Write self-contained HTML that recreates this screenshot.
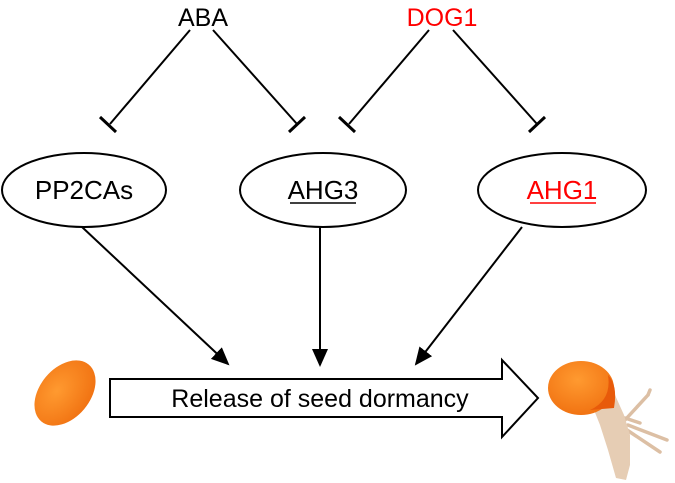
<!DOCTYPE html>
<html><head><style>body{margin:0;background:#fff}svg{display:block}</style></head><body>
<svg width="675" height="483" viewBox="0 0 675 483" font-family="Liberation Sans, sans-serif">
<defs>
<marker id="a" markerWidth="18" markerHeight="18" refX="16" refY="8" orient="auto" markerUnits="userSpaceOnUse"><path d="M0,0 L18,8 L0,16 z" fill="#000"/></marker>
<radialGradient id="o" cx="45%" cy="35%" r="70%"><stop offset="0" stop-color="#ff9a30"/><stop offset="1" stop-color="#f07010"/></radialGradient>
</defs>
<text x="203" y="26" font-size="25" text-anchor="middle">ABA</text>
<text x="442" y="26" font-size="25" text-anchor="middle" fill="#f00">DOG1</text>
<g stroke="#000" stroke-width="2" fill="none">
<line x1="190" y1="30" x2="110" y2="124"/><line x1="100" y1="117" x2="116" y2="132" stroke-width="3"/>
<line x1="213" y1="30" x2="297" y2="124"/><line x1="289" y1="132" x2="305" y2="117" stroke-width="3"/>
<line x1="429" y1="30" x2="349" y2="124"/><line x1="339" y1="117" x2="355" y2="132" stroke-width="3"/>
<line x1="453" y1="30" x2="537" y2="124"/><line x1="529" y1="132" x2="545" y2="117" stroke-width="3"/>
<ellipse cx="84" cy="190" rx="82" ry="37"/>
<ellipse cx="323" cy="190" rx="83" ry="37"/>
<ellipse cx="562" cy="190" rx="84" ry="37"/>
<line x1="82" y1="227" x2="228" y2="364" marker-end="url(#a)"/>
<line x1="320" y1="227" x2="320" y2="365" marker-end="url(#a)"/>
<line x1="522" y1="227" x2="416" y2="364" marker-end="url(#a)"/>
<path d="M110,379 L502,379 L502,360 L538,398 L502,437 L502,417 L110,417 Z" fill="#fff"/>
</g>
<text x="84" y="199" font-size="26" text-anchor="middle">PP2CAs</text>
<text x="323" y="199" font-size="26" text-anchor="middle">AHG3</text>
<text x="562" y="199" font-size="26" text-anchor="middle" fill="#f00">AHG1</text>
<line x1="290" y1="203" x2="356" y2="203" stroke="#000" stroke-width="1.5"/>
<line x1="530" y1="203" x2="596" y2="203" stroke="#f00" stroke-width="1.5"/>
<text x="320" y="407" font-size="25" text-anchor="middle">Release of seed dormancy</text>
<ellipse cx="65" cy="393" rx="37" ry="25" transform="rotate(-50 65 393)" fill="url(#o)"/>
<g stroke="#dcbfa4" stroke-width="3.5" stroke-linecap="round">
<line x1="625" y1="420" x2="648" y2="395"/><line x1="648" y1="395" x2="650" y2="390"/>
<line x1="628" y1="425" x2="667" y2="440"/><line x1="627" y1="430" x2="660" y2="452"/>
<line x1="625" y1="418" x2="640" y2="423"/>
</g>
<path d="M592,405 L615,395 L624,415 L630,435 L630,465 L626,480 L616,478 L608,450 L600,425 Z" fill="#e6cdb4"/>
<ellipse cx="581" cy="388" rx="33" ry="27" fill="url(#o)"/>
<path d="M590,410 Q612,400 608,375 Q618,385 614,408 Z" fill="#e85a0a"/>
</svg>
</body></html>
